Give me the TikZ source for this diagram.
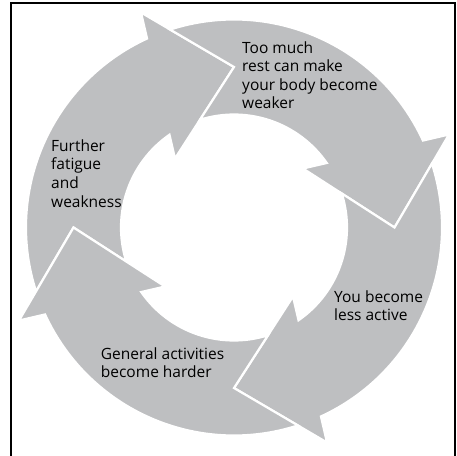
\documentclass[tikz,border=0pt]{standalone}
\usepackage{fontspec}
\setmainfont{Open Sans}
\definecolor{ringgrey}{RGB}{190,191,193}

\begin{document}
\begin{tikzpicture}[
  x=1pt,y=1pt,
  seg/.style={fill=ringgrey,draw=white,line width=2.2pt,line join=miter},
  txt/.style={align=left,inner sep=0pt,anchor=base west,font=\fontsize{15.5}{18.6}\selectfont}
]
\useasboundingbox (-234,-227.5) rectangle (223,227.5);
% frame, open at the foot
\draw[line width=2pt] (-223,-232) -- (-223,224.5) -- (221,224.5) -- (221,-232);
% one arrow of the ring, turned four times
\foreach \ang in {0,-90,-180,-270}
  \path[seg,rotate=\ang] (197.89:208) arc[start angle=197.89,end angle=114.71,radius=208]
    -- (-93,215) -- (0,160.5) -- (-59,69) -- (124.82:113)
    arc[start angle=124.82,end angle=197.52,radius=113] -- (180:160.5) -- cycle;
% texts, placed by the baseline of their last line
\node[txt] (rest) at (8,118.5) {Too much\\rest can make\\your body become\\weaker};
\node[txt] (active) at (100,-93.2) {You become\\less active};
\node[txt] (harder) at (-133.3,-150.2) {General activities\\become harder};
\node[txt] (fatigue) at (-183,20.5) {Further\\fatigue\\and\\weakness};
\end{tikzpicture}
\end{document}
